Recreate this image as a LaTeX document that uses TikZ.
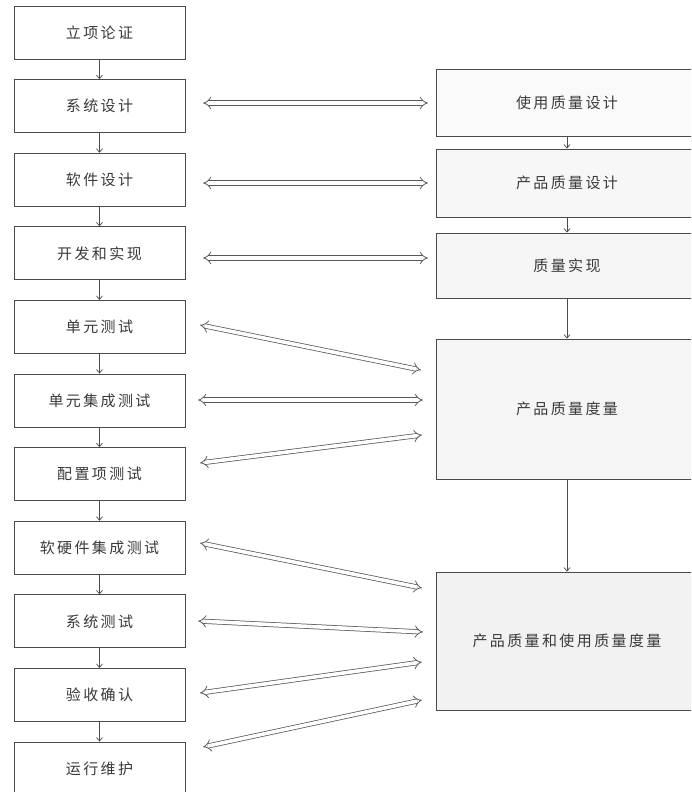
\documentclass[tikz,border=0pt]{standalone}
\usepackage{fontspec}
\newfontfamily\cjk[LetterSpace=16]{Noto Sans CJK SC}
\usetikzlibrary{arrows.meta}
\definecolor{bordc}{HTML}{4A4A4A}
\definecolor{txtc}{HTML}{3A3A3A}
\tikzset{
  lbox/.style={draw=bordc, line width=0.9pt, fill=white, minimum width=171pt, minimum height=53pt, inner sep=0pt,
    font=\cjk\fontsize{15}{17}\selectfont, text=txtc},
  rbox/.style={draw=bordc, line width=0.9pt, minimum width=262pt, inner sep=0pt,
    font=\cjk\fontsize{15}{17}\selectfont, text=txtc},
  flow/.style={draw=bordc, line width=0.7pt, -{Straight Barb[length=3.5pt,width=6pt]}},
  dbl/.style={draw=gray!70!black, line width=0.75pt, double=white, double distance=3.6pt, {Implies}-{Implies}}
}
\begin{document}
\begin{tikzpicture}[x=1pt,y=-1pt]
\useasboundingbox (0,0) rectangle (691,792);
\clip (0,0) rectangle (691,792);
\fill[white] (0,0) rectangle (691,792);
% left column
\node[lbox] (l1) at (99.5,32.5) {立项论证};
\node[lbox] (l2) at (99.5,106.1) {系统设计};
\node[lbox] (l3) at (99.5,179.7) {软件设计};
\node[lbox] (l4) at (99.5,253.3) {开发和实现};
\node[lbox] (l5) at (99.5,326.9) {单元测试};
\node[lbox] (l6) at (99.5,400.5) {单元集成测试};
\node[lbox] (l7) at (99.5,474.1) {配置项测试};
\node[lbox] (l8) at (99.5,547.7) {软硬件集成测试};
\node[lbox] (l9) at (99.5,621.3) {系统测试};
\node[lbox] (l10) at (99.5,694.9) {验收确认};
\node[lbox] (l11) at (99.5,768.5) {运行维护};
\foreach \a/\b in {l1/l2,l2/l3,l3/l4,l4/l5,l5/l6,l6/l7,l7/l8,l8/l9,l9/l10,l10/l11}
  \draw[flow] (\a.south) -- (\b.north);
% right column
\node[rbox, fill=gray!4, minimum height=67pt] (r1) at (567,102.5) {使用质量设计};
\node[rbox, fill=gray!6, minimum height=68pt] (r2) at (567,183) {产品质量设计};
\node[rbox, fill=gray!8, minimum height=65pt] (r3) at (567,265.5) {质量实现};
\node[rbox, fill=gray!8, minimum height=140pt] (r4) at (567,409) {产品质量度量};
\node[rbox, fill=gray!10, minimum height=138pt] (r5) at (567,641) {产品质量和使用质量度量};
\draw[flow] (r1.south) -- (r2.north);
\draw[flow] (r2.south) -- (r3.north);
\draw[flow] (r3.south) -- (r4.north);
\draw[flow] (r4.south) -- (r5.north);
% double arrows
\coordinate (a1l) at (203,103); \coordinate (a1r) at (428,103);
\coordinate (a2l) at (203,183); \coordinate (a2r) at (428,183);
\coordinate (a3l) at (203,258); \coordinate (a3r) at (428,258);
\coordinate (a4l) at (200,325); \coordinate (a4r) at (421,370);
\coordinate (a5l) at (198,400); \coordinate (a5r) at (423,400);
\coordinate (a6l) at (200,463); \coordinate (a6r) at (422,435);
\coordinate (a7l) at (200,543); \coordinate (a7r) at (422,588);
\coordinate (a8l) at (198,621); \coordinate (a8r) at (423,632);
\coordinate (a9l) at (200,693); \coordinate (a9r) at (422,662);
\coordinate (a10l) at (203,747); \coordinate (a10r) at (422,700);
\foreach \i in {1,...,10}
  \draw[dbl] (a\i l) -- (a\i r);
\end{tikzpicture}
\end{document}
